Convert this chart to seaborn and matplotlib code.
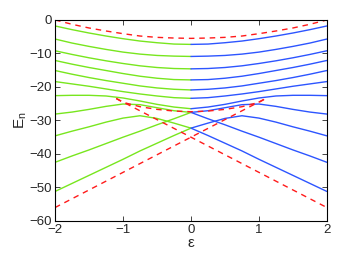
import numpy as np
import pandas as pd
import seaborn as sns
import matplotlib
matplotlib.use("Agg")
import matplotlib.pyplot as plt

# epsilon grid for the left half (green); blue half is the mirror image
eps = [-2.0, -1.75, -1.5, -1.25, -1.0, -0.75, -0.5, -0.25, 0.0]

# energy levels E_n, one list per level
levels = [
    [-1.8, -2.9, -3.9, -4.8, -5.6, -6.3, -6.8, -7.2, -7.3],
    [-5.7, -6.9, -7.9, -8.8, -9.6, -10.2, -10.6, -10.8, -10.9],
    [-9.2, -10.3, -11.3, -12.2, -13.0, -13.7, -14.2, -14.5, -14.6],
    [-12.1, -13.2, -14.2, -15.1, -16.0, -16.8, -17.4, -17.8, -17.9],
    [-15.1, -16.2, -17.2, -18.1, -18.9, -19.7, -20.3, -20.7, -20.9],
    [-18.4, -19.1, -19.8, -20.6, -21.4, -22.1, -22.7, -23.2, -23.4],
    [-22.6, -22.5, -22.5, -22.7, -23.3, -24.2, -25.2, -26.0, -26.5],
    [-28.1, -27.5, -26.7, -25.8, -25.1, -25.3, -26.2, -27.1, -27.6],
    [-34.6, -33.2, -31.9, -30.5, -29.3, -28.6, -29.4, -30.8, -32.3],
    [-42.5, -40.6, -38.8, -36.9, -35.0, -33.2, -31.3, -29.5, -27.6],
    [-51.2, -48.8, -46.4, -44.0, -41.6, -39.1, -36.8, -34.5, -32.3],
]

# mean-field curves (red dashed)
top_eps = [-2.0, -1.75, -1.5, -1.25, -1.0, -0.75, -0.5, -0.25, 0.0,
           0.25, 0.5, 0.75, 1.0, 1.25, 1.5, 1.75, 2.0]
top_E = [0.0, -1.3, -2.4, -3.3, -4.1, -4.8, -5.2, -5.4, -5.5,
         -5.4, -5.2, -4.8, -4.1, -3.3, -2.4, -1.3, 0.0]
saddle_eps = [-1.1, -1.0, -0.75, -0.5, -0.25, 0.0, 0.25, 0.5, 0.75, 1.0, 1.1]
saddle_E = [-23.45, -24.6, -25.9, -26.7, -27.2, -27.4, -27.2, -26.7, -25.9, -24.6, -23.45]
up_eps = [-2.0, 1.1]
up_E = [-56.0, -23.45]
down_eps = [-1.1, 2.0]
down_E = [-23.45, -56.0]

green = "#78e61e"
blue = "#2d55ff"
red = "#ff1a1a"

sns.set_style("ticks")
plt.rcParams["font.family"] = ["Liberation Sans", "DejaVu Sans"]
plt.rcParams["mathtext.default"] = "regular"

fig = plt.figure(figsize=(3.6, 2.59), dpi=100)
ax = fig.add_axes([0.153, 0.147, 0.755, 0.776])

for lev in levels:
    sns.lineplot(x=eps, y=lev, color=green, lw=1.0, ax=ax, sort=False, estimator=None)
    sns.lineplot(x=[-e for e in eps], y=lev, color=blue, lw=1.0, ax=ax, sort=False, estimator=None)

for xs, ys in [(top_eps, top_E), (saddle_eps, saddle_E), (up_eps, up_E), (down_eps, down_E)]:
    sns.lineplot(x=xs, y=ys, color=red, lw=1.0, ax=ax, sort=False, estimator=None,
                 linestyle=(0, (4, 3.5)))

ax.set_xlim(-2, 2)
ax.set_ylim(-60, 0)
ax.set_xticks([-2, -1, 0, 1, 2])
ax.set_yticks([-60, -50, -40, -30, -20, -10, 0])
ax.tick_params(direction="in", length=3.5, width=0.6, labelsize=9.5,
               top=True, right=True, pad=2.5)
for s in ax.spines.values():
    s.set_linewidth(0.8)
    s.set_color("black")
ax.set_xlabel("ε", fontsize=11, labelpad=0)
ax.set_ylabel("E$_n$", fontsize=11, labelpad=0)

fig.savefig("out.png", dpi=100)
